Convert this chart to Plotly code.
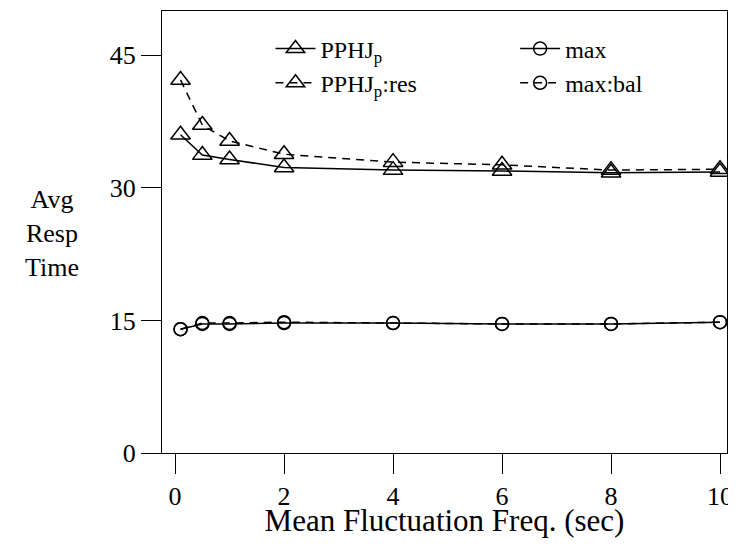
import plotly.graph_objects as go

freq = [0.1, 0.5, 1, 2, 4, 6, 8, 10]
pphj_p = [36.0, 33.7, 33.2, 32.3, 32.0, 31.9, 31.7, 31.8]
pphj_p_res = [42.2, 37.1, 35.3, 33.8, 32.9, 32.6, 32.0, 32.1]
max_vals = [14.0, 14.6, 14.6, 14.7, 14.7, 14.6, 14.6, 14.8]
max_bal = [14.0, 14.7, 14.7, 14.8, 14.7, 14.6, 14.6, 14.8]

x_ticks = [0, 2, 4, 6, 8, 10]
y_ticks = [0, 15, 30, 45]

FONT = "Times New Roman"
BLACK = "#000000"

fig = go.Figure()

def add(name, y, symbol, dash, size, legend):
    fig.add_trace(go.Scatter(
        x=freq, y=y, name=name, mode="lines+markers",
        line=dict(color=BLACK, width=1.5, dash=dash),
        marker=dict(symbol=symbol, size=size, color=BLACK,
                    line=dict(color=BLACK, width=1.5)),
        legend=legend,
    ))

add("PPHJ<sub>p</sub>", pphj_p, "triangle-up-open", "solid", 17, "legend")
add("PPHJ<sub>p</sub>:res", pphj_p_res, "triangle-up-open", "8px,6px", 17, "legend")
add("max", max_vals, "circle-open", "solid", 13, "legend2")
add("max:bal", max_bal, "circle-open", "8px,6px", 13, "legend2")

fig.update_layout(
    width=720, height=530,
    margin=dict(l=154, r=1, t=3, b=85, autoexpand=False),
    paper_bgcolor="white", plot_bgcolor="white",
    font=dict(family=FONT, size=26, color=BLACK),
    showlegend=True,
    legend=dict(x=0.192, y=0.965, xanchor="left", yanchor="top",
                bgcolor="rgba(0,0,0,0)", font=dict(size=24),
                tracegroupgap=0, itemwidth=40),
    legend2=dict(x=0.625, y=0.965, xanchor="left", yanchor="top",
                 bgcolor="rgba(0,0,0,0)", font=dict(size=24),
                 tracegroupgap=0, itemwidth=40),
    xaxis=dict(
        range=[-0.24, 10.128], tickvals=x_ticks, ticks="outside", ticklen=20,
        tickwidth=1.2, tickcolor=BLACK, showline=True, linecolor=BLACK,
        linewidth=1.2, mirror=True, showgrid=False, zeroline=False,
        ticklabeloverflow="allow", automargin=False,
        title=dict(text="Mean Fluctuation Freq. (sec)", standoff=14),
    ),
    yaxis=dict(
        range=[0, 50], tickvals=y_ticks, ticks="outside", ticklen=20,
        tickwidth=1.2, tickcolor=BLACK, showline=True, linecolor=BLACK,
        linewidth=1.2, mirror=True, showgrid=False, zeroline=False,
        automargin=False,
    ),
    annotations=[dict(
        text="Avg<br>Resp<br>Time", xref="paper", yref="paper",
        x=(52 - 162) / 565, y=(453 - 233) / 442, xanchor="center", yanchor="middle",
        showarrow=False, align="center",
    )],
)

fig.write_html("out.html")
